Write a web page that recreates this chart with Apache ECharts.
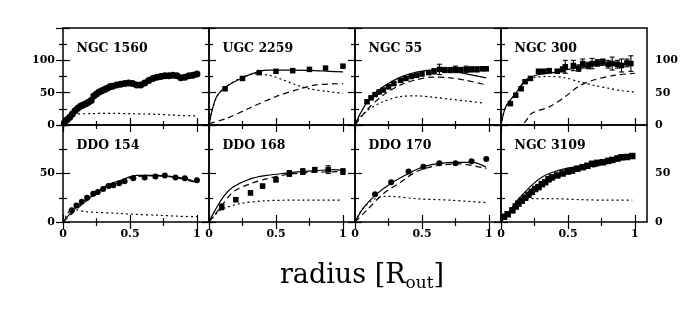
<!DOCTYPE html>
<html>
<head>
<meta charset="utf-8">
<script src="https://cdn.jsdelivr.net/npm/echarts@6/dist/echarts.min.js"></script>
<style>
html, body { margin: 0; padding: 0; background: #fff; }
#chart { width: 685px; height: 329px; }
</style>
</head>
<body>
<div id="chart"></div>
<script>
// rotation curves, radius in R_out, velocity in km/s
// obs = data points, total = fit, halo = long dashed, disk = short dashed
var ngc1560Obs = [[0.01,3],[0.03,8],[0.05,12],[0.07,17],[0.09,22],[0.11,26],[0.13,29],[0.15,31],[0.17,33],[0.19,35],[0.21,38],[0.23,45],[0.25,48],[0.27,51],[0.29,53],[0.31,55],[0.33,57],[0.35,59],[0.37,60],[0.40,62],[0.43,63],[0.46,64],[0.49,65],[0.52,64],[0.55,62],[0.58,62],[0.61,65],[0.64,69],[0.67,72],[0.70,74],[0.73,75],[0.76,76],[0.79,76],[0.82,77],[0.85,76],[0.88,73],[0.91,74],[0.94,76],[0.97,77],[1.0,79]];
var ngc1560Total = [[0,0],[0.05,12],[0.1,24],[0.15,31],[0.2,36],[0.25,48],[0.3,54],[0.35,59],[0.4,62],[0.45,63.5],[0.5,64.5],[0.55,63],[0.6,64],[0.65,70],[0.7,74],[0.75,75.5],[0.8,76],[0.85,76],[0.9,75],[0.95,76],[1.0,78]];
var ngc1560Disk = [[0,0],[0.03,10],[0.06,15],[0.1,17],[0.2,17.5],[0.3,18],[0.4,18],[0.5,17.5],[0.6,17],[0.7,16.5],[0.8,15.5],[0.9,14.5],[1.0,14]];

var ugc2259Obs = [[0.12,56],[0.25,72],[0.375,81],[0.5,83],[0.625,84],[0.75,86],[0.87,88],[1.0,91]];
var ugc2259Total = [[0,0],[0.02,20],[0.057,44],[0.12,58],[0.25,73],[0.375,83],[0.45,85],[0.6,85],[0.75,84.5],[0.9,83],[1.0,82]];
var ugc2259Halo = [[0,2],[0.13,10],[0.3,26],[0.5,44],[0.68,56],[0.8,62],[1.0,64]];
var ugc2259Disk = [[0,0],[0.02,20],[0.06,44],[0.12,58],[0.25,74],[0.35,79],[0.45,77],[0.55,70],[0.65,62],[0.75,56],[0.88,52],[1.0,49]];

var ngc55Obs = [[0.09,36],[0.12,42],[0.15,47],[0.18,51],[0.21,54],[0.25,59],[0.29,64],[0.34,69],[0.38,72],[0.42,75],[0.46,77],[0.5,79],[0.55,81],[0.59,83],[0.63,86],[0.67,85],[0.71,85],[0.75,86],[0.79,85],[0.83,86],[0.87,86],[0.91,86],[0.95,87],[0.98,87]];
var ngc55Err = [2,2,2,2,2,2,2,3,3,3,3,3,3,4,8,4,4,5,4,5,4,4,3,3];
var ngc55Total = [[0,0],[0.04,18],[0.11,41],[0.21,59],[0.34,74],[0.46,82],[0.58,85],[0.71,84],[0.83,79],[0.98,73]];
var ngc55Halo = [[0,0],[0.087,23],[0.21,46],[0.34,62],[0.46,70],[0.58,74],[0.71,73],[0.83,69],[0.98,62]];
var ngc55Disk = [[0,0],[0.04,12],[0.11,25],[0.21,36],[0.34,44],[0.46,45],[0.58,43],[0.71,40],[0.83,37],[0.96,34]];

var ngc300Obs = [[0.07,33],[0.11,46],[0.15,56],[0.18,67],[0.22,72],[0.28,83],[0.32,83],[0.36,84],[0.42,83],[0.46,86],[0.48,90],[0.54,92],[0.58,88],[0.61,95],[0.65,92],[0.68,95],[0.72,96],[0.76,98],[0.80,94],[0.83,95],[0.87,94],[0.9,92],[0.94,96],[0.97,95]];
var ngc300Err = [2,2,2,2,2,3,3,3,3,4,10,8,5,7,5,8,5,4,6,10,6,10,6,12];
var ngc300Total = [[0,0],[0.035,28],[0.11,49],[0.18,69],[0.26,77],[0.36,80],[0.48,85],[0.61,90],[0.73,92],[0.85,94],[0.98,95]];
var ngc300Halo = [[0.1,0],[0.17,3],[0.23,18],[0.36,28],[0.48,44],[0.58,60],[0.7,70],[0.85,77],[1.0,80]];
var ngc300Disk = [[0,0],[0.035,28],[0.11,49],[0.18,67],[0.26,74],[0.36,75],[0.48,73],[0.58,67],[0.7,61],[0.8,57],[0.9,53],[1.0,51]];

var ddo154Obs = [[0.065,12],[0.1,17],[0.14,21],[0.18,25],[0.226,29],[0.26,31],[0.3,34],[0.34,37],[0.376,38],[0.42,40],[0.46,42],[0.525,45],[0.61,46],[0.69,47],[0.76,48],[0.84,46],[0.91,45],[1.0,43]];
var ddo154Total = [[0,0],[0.065,10.5],[0.15,21],[0.226,27.5],[0.33,38],[0.43,43],[0.55,48],[0.7,48],[0.8,47],[0.92,44.5],[1.0,41]];
var ddo154Halo = [[0,0],[0.07,9],[0.15,19],[0.23,27],[0.33,37],[0.43,42],[0.55,47],[0.7,47.5],[0.85,45.5],[1.0,40.5]];
var ddo154Disk = [[0,0],[0.04,10],[0.07,13],[0.18,10.5],[0.4,9],[0.52,8],[0.7,7],[0.85,6],[1.0,5.5]];

var ddo168Obs = [[0.095,15.6],[0.2,23],[0.31,30],[0.4,37],[0.5,43.5],[0.6,50],[0.7,52],[0.79,54],[0.89,54],[1.0,52]];
var ddo168Err = [3,2,2,2,2,3,3,2,4,3];
var ddo168Total = [[0,0],[0.045,12],[0.107,26],[0.18,36],[0.31,44.5],[0.43,48],[0.55,50],[0.68,52],[0.8,53],[0.93,54],[1.0,53]];
var ddo168Halo = [[0,0],[0.08,14],[0.18,31],[0.31,39.5],[0.43,44.5],[0.58,49],[0.75,51],[1.0,52]];
var ddo168Disk = [[0,0],[0.08,12],[0.13,15],[0.23,19],[0.43,22],[0.68,22.5],[1.0,22.5]];

var ddo170Obs = [[0.15,28.6],[0.27,41],[0.4,52],[0.51,57],[0.63,60.5],[0.75,60.5],[0.87,62.6],[0.98,65]];
var ddo170Total = [[0,0],[0.06,14],[0.15,27.5],[0.27,40],[0.4,50],[0.51,57],[0.63,60.5],[0.76,61.5],[0.88,61.5],[0.98,56.5]];
var ddo170Halo = [[0,0],[0.087,12],[0.21,29],[0.34,41],[0.46,52],[0.61,58],[0.78,60],[0.98,55]];
var ddo170Disk = [[0,0],[0.06,14],[0.15,24],[0.24,26.5],[0.46,24],[0.71,22.5],[0.98,20]];

var ngc3109Obs = [[0.022,5.4],[0.05,8],[0.085,12],[0.11,16],[0.13,19],[0.155,22],[0.18,25],[0.205,28],[0.23,31],[0.255,34],[0.28,36],[0.305,39],[0.33,41],[0.355,44],[0.38,46],[0.42,48],[0.46,50],[0.5,52],[0.53,53],[0.57,55],[0.61,56.5],[0.645,58],[0.68,60],[0.72,61],[0.76,61.6],[0.8,63],[0.83,64],[0.87,65.5],[0.9,66.7],[0.94,67],[0.98,68]];
var ngc3109Total = [[0,0],[0.06,10.5],[0.13,23.5],[0.23,38],[0.31,46.6],[0.38,51],[0.48,55],[0.61,58],[0.73,61.5],[0.86,65],[0.98,68]];
var ngc3109Halo = [[0,0],[0.13,20.7],[0.23,34],[0.36,43.5],[0.48,50],[0.73,58],[0.98,66.7]];
var ngc3109Disk = [[0,0],[0.085,15],[0.18,23],[0.23,24],[0.38,24],[0.61,23],[0.78,22.5],[0.98,22.5]];

var xMajor = [0, 0.5, 1];
var xMinor = [0.25, 0.75];

var panels = [
  {name: 'NGC 1560', obs: ngc1560Obs, total: ngc1560Total, disk: ngc1560Disk, sym: 'circle', size: 7},
  {name: 'UGC 2259', obs: ugc2259Obs, total: ugc2259Total, halo: ugc2259Halo, disk: ugc2259Disk, sym: 'rect', size: 5.5},
  {name: 'NGC 55', obs: ngc55Obs, err: ngc55Err, total: ngc55Total, halo: ngc55Halo, disk: ngc55Disk, sym: 'rect', size: 5.5},
  {name: 'NGC 300', obs: ngc300Obs, err: ngc300Err, total: ngc300Total, halo: ngc300Halo, disk: ngc300Disk, sym: 'rect', size: 5.5},
  {name: 'DDO 154', obs: ddo154Obs, total: ddo154Total, halo: ddo154Halo, disk: ddo154Disk, sym: 'circle', size: 6},
  {name: 'DDO 168', obs: ddo168Obs, err: ddo168Err, total: ddo168Total, halo: ddo168Halo, disk: ddo168Disk, sym: 'rect', size: 5.5},
  {name: 'DDO 170', obs: ddo170Obs, total: ddo170Total, halo: ddo170Halo, disk: ddo170Disk, sym: 'circle', size: 6},
  {name: 'NGC 3109', obs: ngc3109Obs, total: ngc3109Total, halo: ngc3109Halo, disk: ngc3109Disk, sym: 'rect', size: 6.5}
];

var colLeft = [63, 209, 355, 501];
var rowTop = [28, 125];
var W = 146, H = 97;
var tickFont = {color: '#000', fontFamily: 'DejaVu Serif', fontWeight: 'bold', fontSize: 11};

var grids = [], xAxes = [], yAxes = [], series = [], texts = [];

function axis(dim, gi, pos, ticks, len, labels, min, max, margin) {
  var a = {
    type: 'value', gridIndex: gi, position: pos, min: min, max: max,
    axisLine: {show: false}, splitLine: {show: false},
    axisTick: {show: true, inside: true, length: len, customValues: ticks, lineStyle: {color: '#000', width: 1.2}},
    axisLabel: labels ? Object.assign({show: true, customValues: labels, margin: margin}, tickFont) : {show: false}
  };
  (dim === 'x' ? xAxes : yAxes).push(a);
}

function errBars(p, gi) {
  var d = p.obs.map(function (o, k) { return [o[0], o[1] - p.err[k], o[1] + p.err[k]]; });
  return {
    type: 'custom', xAxisIndex: gi * 4, yAxisIndex: gi * 4, data: d, encode: {x: 0, y: [1, 2]},
    renderItem: function (params, api) {
      var hi = api.coord([api.value(0), api.value(2)]);
      var lo = api.coord([api.value(0), api.value(1)]);
      var st = {stroke: '#000', lineWidth: 1.1};
      return {type: 'group', children: [
        {type: 'line', shape: {x1: hi[0], y1: hi[1], x2: lo[0], y2: lo[1]}, style: st},
        {type: 'line', shape: {x1: hi[0] - 2.5, y1: hi[1], x2: hi[0] + 2.5, y2: hi[1]}, style: st},
        {type: 'line', shape: {x1: lo[0] - 2.5, y1: lo[1], x2: lo[0] + 2.5, y2: lo[1]}, style: st}
      ]};
    }
  };
}

function curve(data, gi, type) {
  return {
    type: 'line', xAxisIndex: gi * 4, yAxisIndex: gi * 4, data: data,
    showSymbol: false, smooth: 0.3, silent: true,
    lineStyle: {color: '#000', width: 1.2, type: type}
  };
}

panels.forEach(function (p, gi) {
  var col = gi % 4, row = Math.floor(gi / 4);
  var yMax = row === 0 ? 150 : 100;
  var yMajor = row === 0 ? [0, 50, 100, 150] : [0, 50, 100];
  var yMinor = row === 0 ? [25, 75, 125] : [25, 75];
  var yLab = row === 0 ? [0, 50, 100] : [0, 50];

  grids.push({left: colLeft[col], top: rowTop[row], width: W, height: H, show: true,
    borderColor: '#000', borderWidth: 1.5, backgroundColor: 'transparent', outerBoundsMode: 'none'});

  axis('x', gi, 'bottom', xMajor, 7, row === 1 ? xMajor : null, 0, 1.09, 7);
  axis('x', gi, 'bottom', xMinor, 4, null, 0, 1.09);
  axis('x', gi, 'top', xMajor, 7, null, 0, 1.09);
  axis('x', gi, 'top', xMinor, 4, null, 0, 1.09);
  axis('y', gi, 'left', yMajor, 7, col === 0 ? yLab : null, 0, yMax, 8);
  axis('y', gi, 'left', yMinor, 4, null, 0, yMax);
  axis('y', gi, 'right', yMajor, 7, col === 3 ? yLab : null, 0, yMax, 8);
  axis('y', gi, 'right', yMinor, 4, null, 0, yMax);

  if (p.disk) series.push(curve(p.disk, gi, [2, 3]));
  if (p.halo) series.push(curve(p.halo, gi, [6, 4]));
  if (p.total) series.push(curve(p.total, gi, 'solid'));
  if (p.err) series.push(errBars(p, gi));
  series.push({
    type: 'scatter', xAxisIndex: gi * 4, yAxisIndex: gi * 4, data: p.obs,
    symbol: p.sym, symbolSize: p.size, itemStyle: {color: '#000', opacity: 1}
  });

  texts.push({type: 'text', left: colLeft[col] + 13.5, top: rowTop[row] + 14,
    style: {text: p.name, font: 'bold 12.5px "DejaVu Serif"', fill: '#000'}});
});

texts.push({
  type: 'text', x: 362, y: 276,
  style: {
    text: '{m|radius [R}{s|out}{m|]}', align: 'center', verticalAlign: 'middle',
    rich: {
      m: {fontFamily: 'DejaVu Serif', fontSize: 27, lineHeight: 32, color: '#000'},
      s: {fontFamily: 'DejaVu Serif', fontSize: 17, lineHeight: 14, verticalAlign: 'bottom', color: '#000'}
    }
  }
});

var chart = echarts.init(document.getElementById('chart'));
chart.setOption({
  animation: false,
  backgroundColor: '#fff',
  grid: grids,
  xAxis: xAxes,
  yAxis: yAxes,
  series: series,
  graphic: texts
});
</script>
</body>
</html>
